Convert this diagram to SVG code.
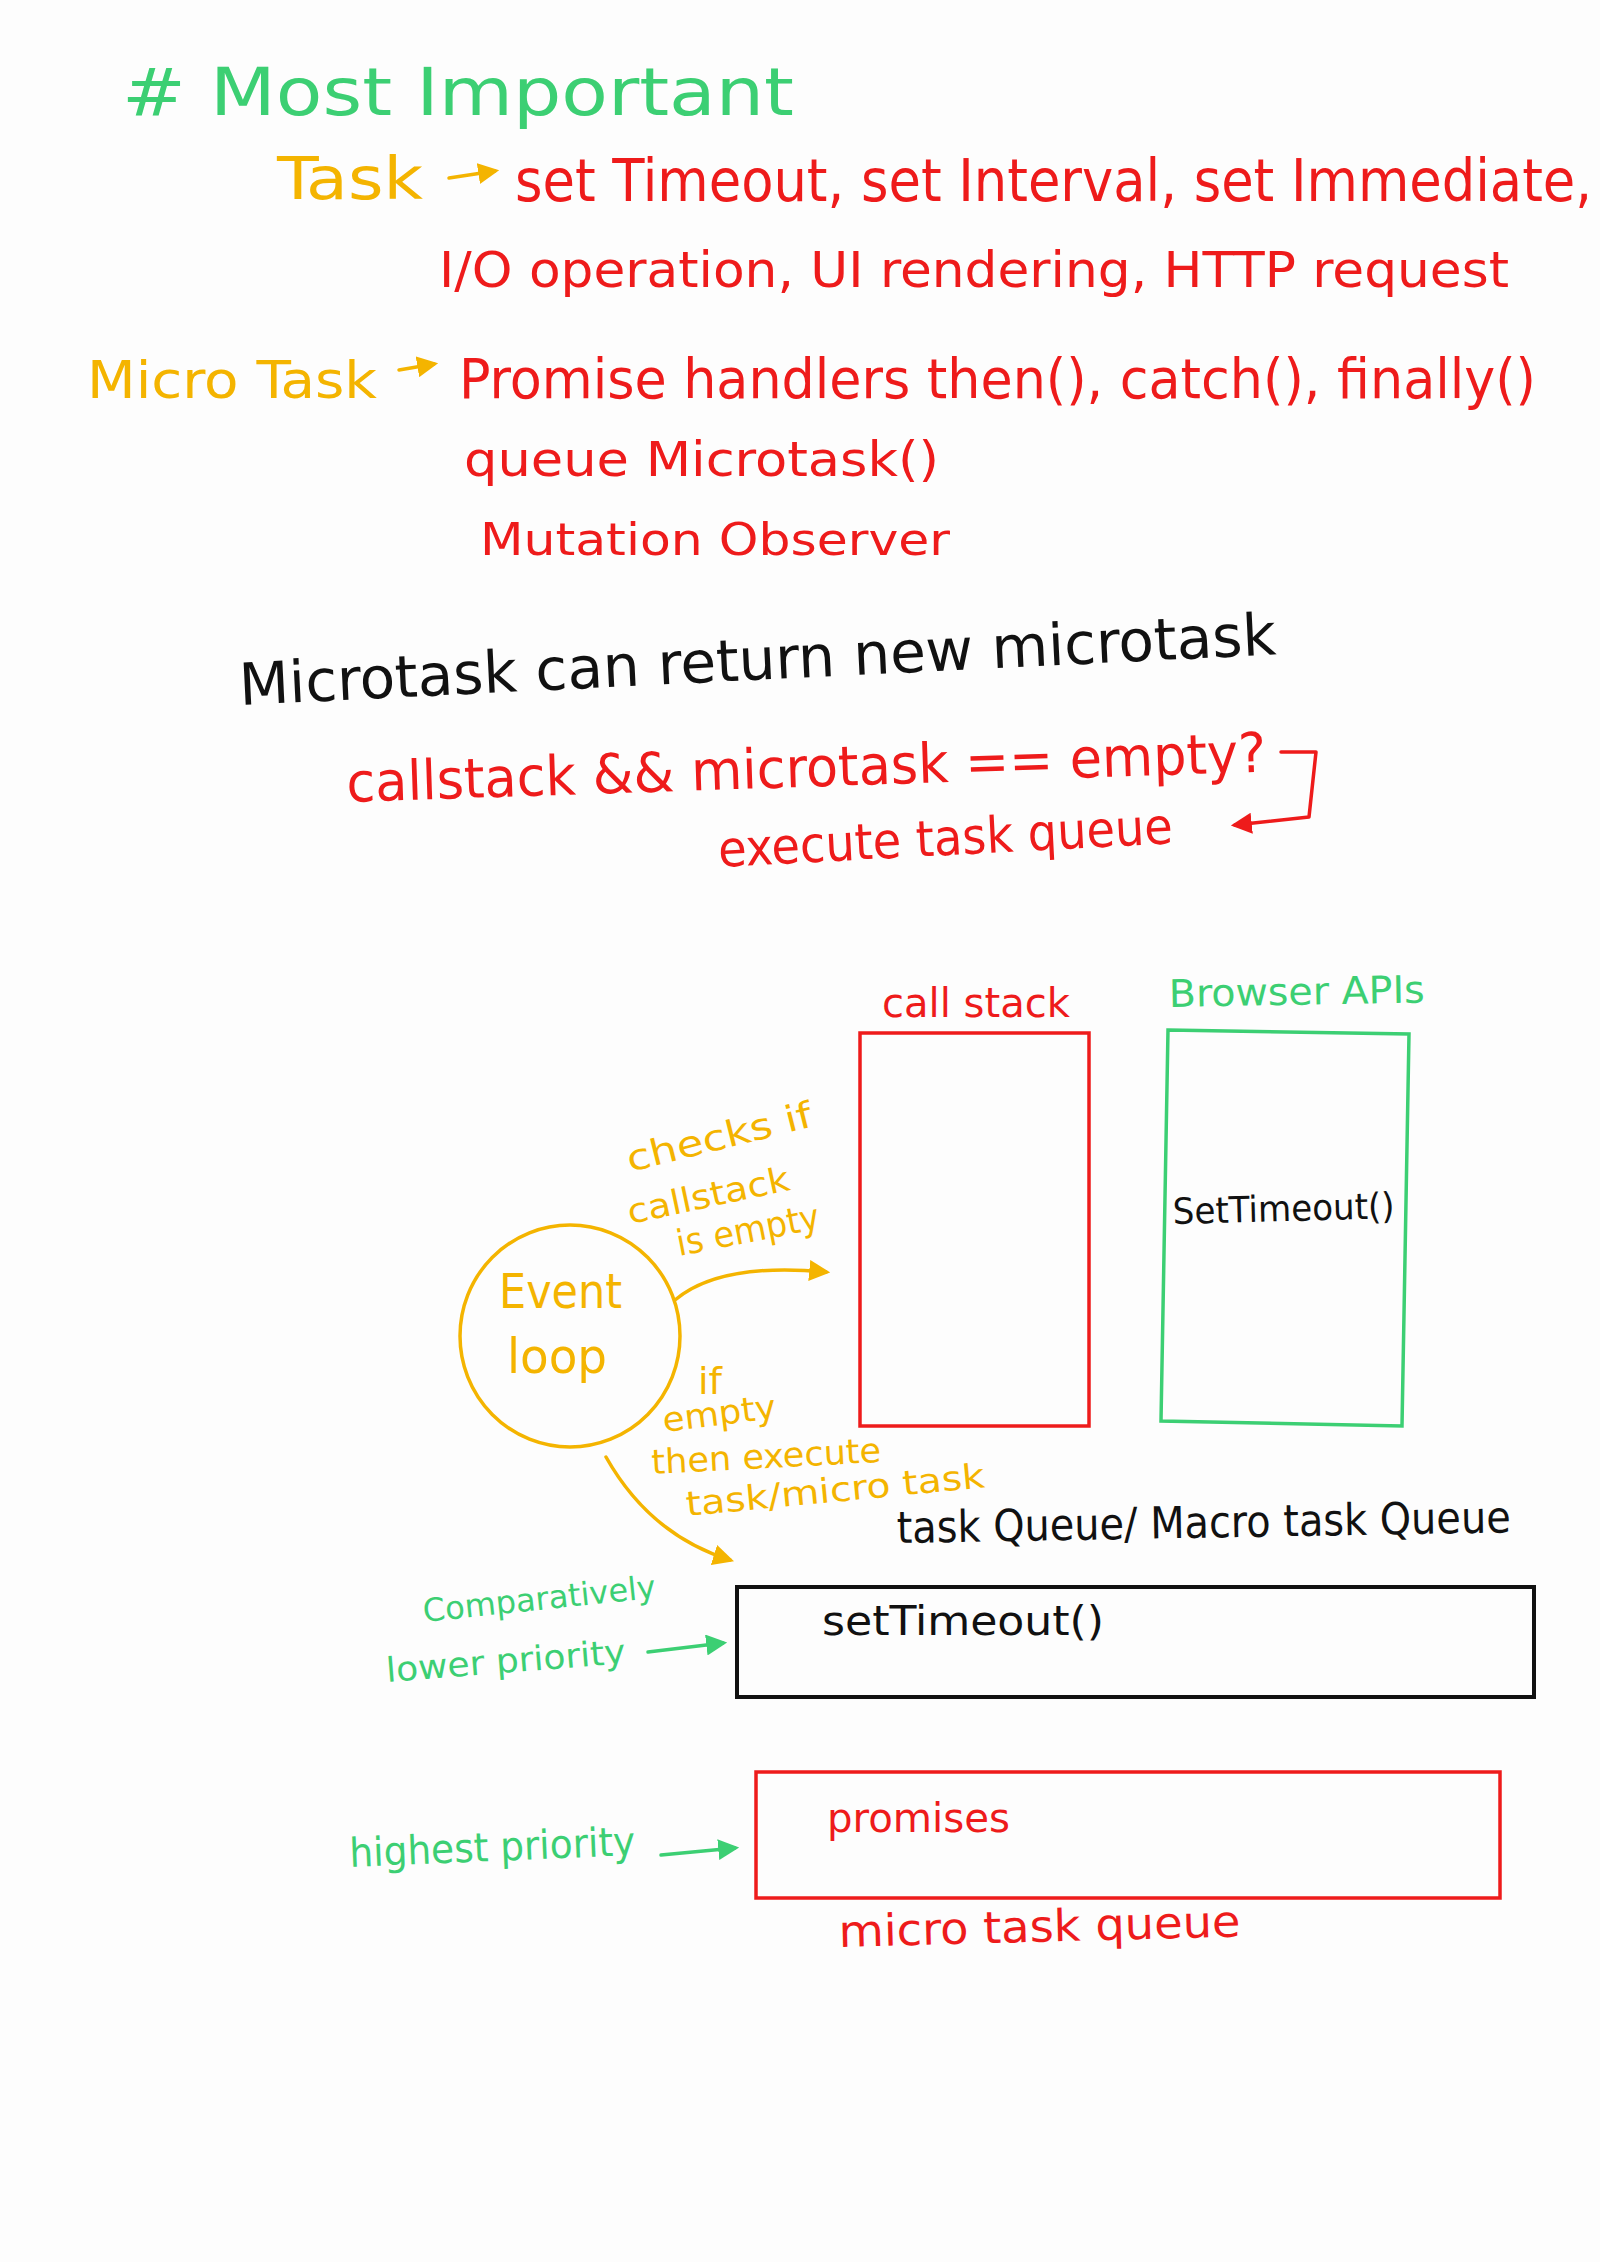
<svg xmlns="http://www.w3.org/2000/svg" width="1600" height="2262" viewBox="0 0 1600 2262">
<style>
text{font-family:"DejaVu Sans Condensed","Liberation Sans Narrow","Liberation Sans",sans-serif;}
.g{fill:#3ccf73}.y{fill:#f4b400}.r{fill:#ee1b1b}.k{fill:#111}
.ln{fill:none;stroke-width:3.5;stroke-linecap:round;stroke-linejoin:round}
.sg{stroke:#3ccf73}.sy{stroke:#f4b400}.sr{stroke:#ee1b1b}.sk{stroke:#111}
</style>
<defs>
<marker id="ay" viewBox="0 0 10 10" refX="8" refY="5" markerWidth="6" markerHeight="6" orient="auto"><path d="M0,0 L10,5 L0,10 z" fill="#f4b400"/></marker>
<marker id="ag" viewBox="0 0 10 10" refX="8" refY="5" markerWidth="6" markerHeight="6" orient="auto"><path d="M0,0 L10,5 L0,10 z" fill="#3ccf73"/></marker>
<marker id="ar" viewBox="0 0 10 10" refX="8" refY="5" markerWidth="6" markerHeight="6" orient="auto"><path d="M0,0 L10,5 L0,10 z" fill="#ee1b1b"/></marker>
</defs>
<rect width="1600" height="2262" fill="#fdfdfd"/>

<g id="notes">
<text class="g" x="122" y="115" font-size="66" textLength="672" lengthAdjust="spacingAndGlyphs"># Most Important</text>
<text class="y" x="277" y="199" font-size="58" textLength="146" lengthAdjust="spacingAndGlyphs">Task</text>
<text class="r" x="515" y="201" font-size="58" textLength="1077" lengthAdjust="spacingAndGlyphs">set Timeout, set Interval, set Immediate,</text>
<text class="r" x="439" y="287" font-size="50" textLength="1070" lengthAdjust="spacingAndGlyphs">I/O operation, UI rendering, HTTP request</text>
<text class="y" x="87" y="398" font-size="52" textLength="290" lengthAdjust="spacingAndGlyphs">Micro Task</text>
<text class="r" x="459" y="398" font-size="56" textLength="1077" lengthAdjust="spacingAndGlyphs">Promise handlers then(), catch(), finally()</text>
<text class="r" x="464" y="476" font-size="48" textLength="475" lengthAdjust="spacingAndGlyphs">queue Microtask()</text>
<text class="r" x="480" y="555" font-size="45" textLength="470" lengthAdjust="spacingAndGlyphs">Mutation Observer</text>
<text class="k" x="240" y="705" font-size="58" textLength="1038" lengthAdjust="spacingAndGlyphs" transform="rotate(-2.8 240 705)">Microtask can return new microtask</text>
<text class="r" x="347" y="802" font-size="55" textLength="920" lengthAdjust="spacingAndGlyphs" transform="rotate(-1.9 347 802)">callstack &amp;&amp; microtask == empty?</text>
<text class="r" x="719" y="867" font-size="50" textLength="455" lengthAdjust="spacingAndGlyphs" transform="rotate(-3 719 867)">execute task queue</text>
</g>

<g id="call-stack">
<text class="r" x="882" y="1017" font-size="40" textLength="188" lengthAdjust="spacingAndGlyphs">call stack</text>
<rect x="860" y="1033" width="229" height="393" fill="none" stroke="#ee1b1b" stroke-width="3.5"/>
</g>

<g id="browser-apis">
<text class="g" x="1169" y="1007" font-size="38" textLength="256" lengthAdjust="spacingAndGlyphs" transform="rotate(-1 1169 1007)">Browser APIs</text>
<polygon points="1168,1030 1409,1034 1402,1426 1161,1421" fill="none" stroke="#3ccf73" stroke-width="3.5"/>
<text class="k" x="1173" y="1224" font-size="36" textLength="222" lengthAdjust="spacingAndGlyphs" transform="rotate(-1.5 1173 1224)">SetTimeout()</text>
</g>

<g id="event-loop">
<ellipse cx="570" cy="1336" rx="110" ry="111" fill="none" stroke="#f4b400" stroke-width="3.5"/>
<text class="y" x="499" y="1308" font-size="48" textLength="123" lengthAdjust="spacingAndGlyphs">Event</text>
<text class="y" x="507" y="1373" font-size="48" textLength="100" lengthAdjust="spacingAndGlyphs">loop</text>
</g>

<g id="task-queue">
<text class="k" x="897" y="1543" font-size="44" textLength="614" lengthAdjust="spacingAndGlyphs" transform="rotate(-1 897 1543)">task Queue/ Macro task Queue</text>
<rect x="737" y="1587" width="797" height="110" fill="none" stroke="#111" stroke-width="4"/>
<text class="k" x="822" y="1635" font-size="40" textLength="282" lengthAdjust="spacingAndGlyphs">setTimeout()</text>
</g>

<g id="microtask-queue">
<rect x="756" y="1772" width="744" height="126" fill="none" stroke="#ee1b1b" stroke-width="3.5"/>
<text class="r" x="827" y="1832" font-size="40" textLength="183" lengthAdjust="spacingAndGlyphs">promises</text>
<text class="r" x="839" y="1947" font-size="44" textLength="402" lengthAdjust="spacingAndGlyphs" transform="rotate(-1.5 839 1947)">micro task queue</text>
</g>

<g id="labels">
<text class="y" x="630" y="1172" font-size="36" textLength="190" lengthAdjust="spacingAndGlyphs" transform="rotate(-14 630 1172)">checks if</text>
<text class="y" x="630" y="1224" font-size="34" textLength="165" lengthAdjust="spacingAndGlyphs" transform="rotate(-12 630 1224)">callstack</text>
<text class="y" x="679" y="1256" font-size="36" textLength="145" lengthAdjust="spacingAndGlyphs" transform="rotate(-11 679 1256)">is empty</text>
<text class="y" x="698" y="1394" font-size="38" textLength="24" lengthAdjust="spacingAndGlyphs">if</text>
<text class="y" x="664" y="1432" font-size="34" textLength="114" lengthAdjust="spacingAndGlyphs" transform="rotate(-7 664 1432)">empty</text>
<text class="y" x="652" y="1474" font-size="34" textLength="230" lengthAdjust="spacingAndGlyphs" transform="rotate(-3 652 1474)">then execute</text>
<text class="y" x="687" y="1516" font-size="34" textLength="300" lengthAdjust="spacingAndGlyphs" transform="rotate(-5.5 687 1516)">task/micro task</text>
<text class="g" x="424" y="1622" font-size="32" textLength="234" lengthAdjust="spacingAndGlyphs" transform="rotate(-6 424 1622)">Comparatively</text>
<text class="g" x="387" y="1682" font-size="34" textLength="240" lengthAdjust="spacingAndGlyphs" transform="rotate(-4.5 387 1682)">lower priority</text>
<text class="g" x="350" y="1867" font-size="40" textLength="286" lengthAdjust="spacingAndGlyphs" transform="rotate(-2.4 350 1867)">highest priority</text>
</g>

<g id="connectors">
<path class="ln sy" d="M449,178 L495,171" marker-end="url(#ay)"/>
<path class="ln sy" d="M399,370 L434,364" marker-end="url(#ay)"/>
<path class="ln sr" d="M1281,752 L1316,752 L1309,817 L1235,825" marker-end="url(#ar)"/>
<path class="ln sy" d="M675,1300 Q720,1262 826,1272" marker-end="url(#ay)"/>
<path class="ln sy" d="M606,1457 Q650,1535 730,1560" marker-end="url(#ay)"/>
<path class="ln sg" d="M648,1652 L723,1643" marker-end="url(#ag)"/>
<path class="ln sg" d="M661,1855 L735,1848" marker-end="url(#ag)"/>
</g>
</svg>
